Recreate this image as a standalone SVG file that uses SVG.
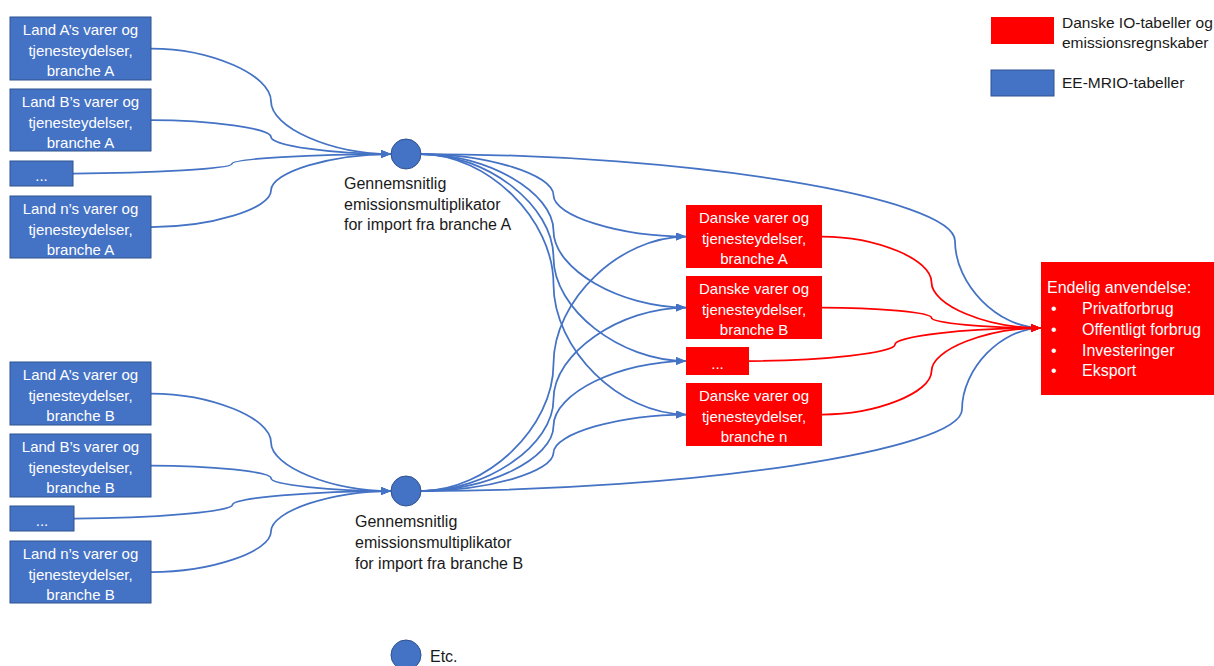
<svg xmlns="http://www.w3.org/2000/svg" width="1214" height="666" viewBox="0 0 1214 666">
<style>
text{font-family:"Liberation Sans",Arial,sans-serif;font-size:15px}
.bt{fill:#fff;text-anchor:middle}
.lt{fill:#1a1a1a}
.lb{font-size:16px}
.ft{fill:#fff;font-size:16px}
.bb{fill:#4472C4;stroke:#2F528F;stroke-width:1}
.rb{fill:#FF0000}
.cb{fill:#4472C4;stroke:#2F528F;stroke-width:1}
.cl{fill:none;stroke:#4472C4;stroke-width:1.75}
.cr{fill:none;stroke:#FF0000;stroke-width:1.75}
</style>
<defs>
<marker id="ab" markerUnits="userSpaceOnUse" markerWidth="10" markerHeight="8" refX="10" refY="4" orient="auto"><path d="M0,0 L10,4 L0,8 z" fill="#4472C4"/></marker>
<marker id="ar" markerUnits="userSpaceOnUse" markerWidth="10" markerHeight="8" refX="10" refY="4" orient="auto"><path d="M0,0 L10,4 L0,8 z" fill="#FF0000"/></marker>
</defs>
<rect width="1214" height="666" fill="#fff"/>

<g id="connectors">
<path class="cl" marker-end="url(#ab)" d="M151,48.5 C211,48.5 271,74.9 271,101.25 C271,127.6 331,154 391,154"/>
<path class="cl" marker-end="url(#ab)" d="M151,120 C211,120 271,128.5 271,137 C271,145.5 331,154 391,154"/>
<path class="cl" marker-end="url(#ab)" d="M73,173.5 C152.5,173.5 232,168.6 232,163.75 C232,158.9 311.5,154 391,154"/>
<path class="cl" marker-end="url(#ab)" d="M151,227 C211,227 271,208.75 271,190.5 C271,172.25 331,154 391,154"/>

<path class="cl" marker-end="url(#ab)" d="M151,393.5 C211,393.5 271,417.9 271,442.25 C271,466.6 331,491 391,491"/>
<path class="cl" marker-end="url(#ab)" d="M151,465.5 C211,465.5 271,471.9 271,478.25 C271,484.6 331,491 391,491"/>
<path class="cl" marker-end="url(#ab)" d="M74,518.5 C153,518.5 232.5,511.6 232.5,504.75 C232.5,497.9 311.75,491 391,491"/>
<path class="cl" marker-end="url(#ab)" d="M151,572 C211,572 271,551.75 271,531.5 C271,511.25 331,491 391,491"/>

<path class="cl" marker-end="url(#ab)" d="M421,154 C487.25,154 553.5,174.6 553.5,195.25 C553.5,215.9 619.75,236.5 686,236.5"/>
<path class="cl" marker-end="url(#ab)" d="M421,154 C487.25,154 553.5,192.4 553.5,230.75 C553.5,269.1 619.75,307.5 686,307.5"/>
<path class="cl" marker-end="url(#ab)" d="M421,154 C487.25,154 553.5,205.75 553.5,257.5 C553.5,309.25 619.75,361 686,361"/>
<path class="cl" marker-end="url(#ab)" d="M421,154 C487.25,154 553.5,219.1 553.5,284.25 C553.5,349.4 619.75,414.5 686,414.5"/>

<path class="cl" marker-end="url(#ab)" d="M421,491 C487.25,491 553.5,427.4 553.5,363.75 C553.5,300.1 619.75,236.5 686,236.5"/>
<path class="cl" marker-end="url(#ab)" d="M421,491 C487.25,491 553.5,445.1 553.5,399.25 C553.5,353.4 619.75,307.5 686,307.5"/>
<path class="cl" marker-end="url(#ab)" d="M421,491 C487.25,491 553.5,458.5 553.5,426 C553.5,393.5 619.75,361 686,361"/>
<path class="cl" marker-end="url(#ab)" d="M421,491 C487.25,491 553.5,471.9 553.5,452.75 C553.5,433.6 619.75,414.5 686,414.5"/>

<path class="cl" marker-end="url(#ab)" d="M421,154 C688,154 955,197.5 955,241 C955,284.5 998,328 1041,328"/>
<path class="cl" marker-end="url(#ab)" d="M421,491 C691.5,491 962,450.25 962,409.5 C962,368.75 1001.5,328 1041,328"/>

<path class="cr" marker-end="url(#ar)" d="M822,236.5 C876.75,236.5 931.5,259.4 931.5,282.25 C931.5,305.1 986.25,328 1041,328"/>
<path class="cr" marker-end="url(#ar)" d="M822,307.5 C876.75,307.5 931.5,312.6 931.5,317.75 C931.5,322.9 986.25,328 1041,328"/>
<path class="cr" marker-end="url(#ar)" d="M749,361 C822,361 895,352.75 895,344.5 C895,336.25 968,328 1041,328"/>
<path class="cr" marker-end="url(#ar)" d="M822,414.5 C876.75,414.5 931.5,392.6 931.5,371.25 C931.5,349.6 986.25,328 1041,328"/>
</g>

<g id="landA-A"><rect class="bb" x="10" y="17" width="141" height="63"/><text class="bt" x="80.5" y="35">Land A’s varer og</text><text class="bt" x="80.5" y="55.5">tjenesteydelser,</text><text class="bt" x="80.5" y="76">branche A</text></g>
<g id="landB-A"><rect class="bb" x="10" y="89" width="141" height="62"/><text class="bt" x="80.5" y="107">Land B’s varer og</text><text class="bt" x="80.5" y="127.5">tjenesteydelser,</text><text class="bt" x="80.5" y="148">branche A</text></g>
<g id="dots-A"><rect class="bb" x="10" y="161" width="63" height="25"/><text class="bt" x="41.5" y="181">...</text></g>
<g id="landN-A"><rect class="bb" x="10" y="196" width="141" height="62"/><text class="bt" x="80.5" y="214">Land n’s varer og</text><text class="bt" x="80.5" y="234.5">tjenesteydelser,</text><text class="bt" x="80.5" y="255">branche A</text></g>

<g id="landA-B"><rect class="bb" x="10" y="362" width="141" height="63"/><text class="bt" x="80.5" y="380">Land A’s varer og</text><text class="bt" x="80.5" y="400.5">tjenesteydelser,</text><text class="bt" x="80.5" y="421">branche B</text></g>
<g id="landB-B"><rect class="bb" x="10" y="434" width="141" height="63"/><text class="bt" x="80.5" y="452">Land B’s varer og</text><text class="bt" x="80.5" y="472.5">tjenesteydelser,</text><text class="bt" x="80.5" y="493">branche B</text></g>
<g id="dots-B"><rect class="bb" x="10" y="506" width="64" height="25"/><text class="bt" x="42" y="526">...</text></g>
<g id="landN-B"><rect class="bb" x="10" y="541" width="141" height="62"/><text class="bt" x="80.5" y="559">Land n’s varer og</text><text class="bt" x="80.5" y="579.5">tjenesteydelser,</text><text class="bt" x="80.5" y="600">branche B</text></g>

<g id="mult-A"><circle class="cb" cx="406" cy="154" r="15"/><text class="lt lb" x="344" y="189">Gennemsnitlig</text><text class="lt lb" x="344" y="209.5">emissionsmultiplikator</text><text class="lt lb" x="344" y="230">for import fra branche A</text></g>
<g id="mult-B"><circle class="cb" cx="406" cy="491" r="15"/><text class="lt lb" x="355" y="527">Gennemsnitlig</text><text class="lt lb" x="355" y="548">emissionsmultiplikator</text><text class="lt lb" x="355" y="569">for import fra branche B</text></g>
<g id="etc"><circle class="cb" cx="406" cy="655" r="15"/><text class="lt lb" x="430" y="662">Etc.</text></g>

<g id="dk-A"><rect class="rb" x="686" y="205" width="136" height="63"/><text class="bt" x="754" y="223">Danske varer og</text><text class="bt" x="754" y="243.5">tjenesteydelser,</text><text class="bt" x="754" y="264">branche A</text></g>
<g id="dk-B"><rect class="rb" x="686" y="276" width="136" height="63"/><text class="bt" x="754" y="294">Danske varer og</text><text class="bt" x="754" y="314.5">tjenesteydelser,</text><text class="bt" x="754" y="335">branche B</text></g>
<g id="dk-dots"><rect class="rb" x="686" y="347" width="63" height="28"/><text class="bt" x="717.5" y="369">...</text></g>
<g id="dk-n"><rect class="rb" x="686" y="383" width="136" height="63"/><text class="bt" x="754" y="401">Danske varer og</text><text class="bt" x="754" y="421.5">tjenesteydelser,</text><text class="bt" x="754" y="442">branche n</text></g>

<g id="final"><rect class="rb" x="1041" y="262" width="173" height="133"/>
<text class="ft" x="1047" y="293">Endelig anvendelse:</text>
<text class="ft" x="1051" y="314">•</text><text class="ft" x="1082" y="314">Privatforbrug</text>
<text class="ft" x="1051" y="335">•</text><text class="ft" x="1082" y="335">Offentligt forbrug</text>
<text class="ft" x="1051" y="356">•</text><text class="ft" x="1082" y="356">Investeringer</text>
<text class="ft" x="1051" y="376">•</text><text class="ft" x="1082" y="376">Eksport</text>
</g>

<g id="legend">
<rect class="rb" x="991" y="17" width="63" height="27"/>
<text class="lt" x="1062" y="28" style="font-size:15.5px">Danske IO-tabeller og</text>
<text class="lt" x="1062" y="48" style="font-size:15.5px">emissionsregnskaber</text>
<rect class="bb" x="991" y="70" width="63" height="26"/>
<text class="lt" x="1062" y="88" style="font-size:15.5px">EE-MRIO-tabeller</text>
</g>
</svg>
